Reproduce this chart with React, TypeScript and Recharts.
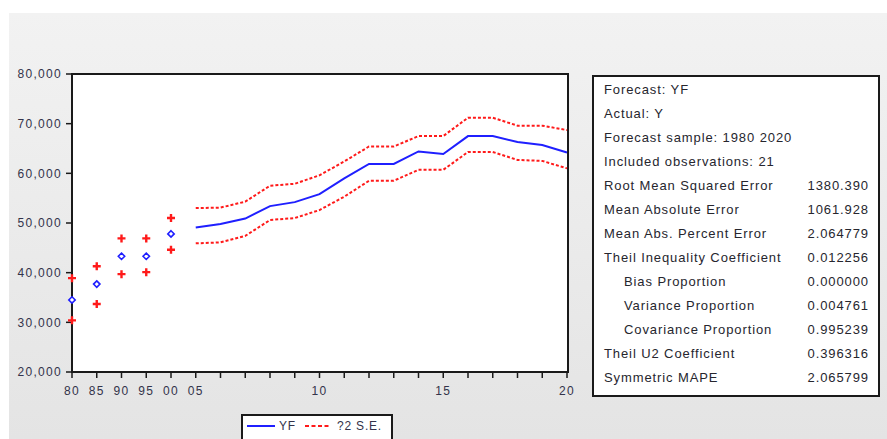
import { ComposedChart, Line, XAxis, YAxis } from "recharts";

// 21 observations: 1980-2000 every 5 years, then annual 2005-2020
const years = ["80", "85", "90", "95", "00", "05", "06", "07", "08", "09", "10", "11", "12", "13", "14", "15", "16", "17", "18", "19", "20"];
const tickLabels = ["80", "85", "90", "95", "00", "05", "", "", "", "", "10", "", "", "", "", "15", "", "", "", "", "20"];
const yf = [34500, 37700, 43300, 43300, 47800, 49100, 49800, 50900, 53400, 54200, 55800, 59000, 61900, 61900, 64400, 63900, 67500, 67500, 66300, 65700, 64200];
const upper = [38900, 41300, 46900, 46900, 51000, 53000, 53100, 54300, 57500, 57900, 59600, 62400, 65400, 65400, 67500, 67500, 71200, 71200, 69600, 69600, 68700];
const lower = [30400, 33700, 39700, 40100, 44600, 45900, 46100, 47400, 50600, 51000, 52600, 55300, 58500, 58500, 60700, 60700, 64300, 64300, 62700, 62500, 61000];
const yTicks = [20000, 30000, 40000, 50000, 60000, 70000, 80000];

// first five observations are not consecutive years, so they are drawn as isolated points
const gapCount = 5;

const rows = years.map((y, i) => ({
  i,
  year: y,
  yfPt: i < gapCount ? yf[i] : null,
  upPt: i < gapCount ? upper[i] : null,
  loPt: i < gapCount ? lower[i] : null,
  yfLn: i >= gapCount ? yf[i] : null,
  upLn: i >= gapCount ? upper[i] : null,
  loLn: i >= gapCount ? lower[i] : null,
}));

const stats: [string, string, boolean][] = [
  ["Forecast: YF", "", false],
  ["Actual: Y", "", false],
  ["Forecast sample: 1980 2020", "", false],
  ["Included observations: 21", "", false],
  ["Root Mean Squared Error", "1380.390", false],
  ["Mean Absolute Error", "1061.928", false],
  ["Mean Abs. Percent Error", "2.064779", false],
  ["Theil Inequality Coefficient", "0.012256", false],
  ["Bias Proportion", "0.000000", true],
  ["Variance Proportion", "0.004761", true],
  ["Covariance Proportion", "0.995239", true],
  ["Theil U2 Coefficient", "0.396316", false],
  ["Symmetric MAPE", "2.065799", false],
];

const BLUE = "#1f1fff";
const RED = "#ff1a1a";
const FONT = "'Liberation Sans', Arial, sans-serif";
const tickStyle = { fontSize: 12, fill: "#33334a", fontFamily: FONT, letterSpacing: 1.3 };

const Diamond = (props: any) => {
  const { cx, cy, value } = props;
  if (cx == null || cy == null || value == null) return null;
  return <path d={`M${cx},${cy - 3.2} L${cx + 3.2},${cy} L${cx},${cy + 3.2} L${cx - 3.2},${cy} Z`} fill="#fff" stroke={BLUE} strokeWidth={1.6} />;
};

const Plus = (props: any) => {
  const { cx, cy, value } = props;
  if (cx == null || cy == null || value == null) return null;
  return (
    <path d={`M${cx - 4},${cy} L${cx + 4},${cy} M${cx},${cy - 4} L${cx},${cy + 4}`} stroke={RED} strokeWidth={2.4} />
  );
};

export default function App() {
  return (
    <div style={{ position: "absolute", left: 0, top: 0, width: 887, height: 439, background: "#fff", overflow: "hidden" }}>
      <div
        style={{
          position: "absolute",
          left: 9,
          top: 13,
          right: 0,
          bottom: 0,
          background: "linear-gradient(#f2f2f2, #e4e4e4)",
        }}
      />
      {/* plot frame behind the chart */}
      <div
        style={{
          position: "absolute",
          left: 71,
          top: 73,
          width: 498,
          height: 300,
          boxSizing: "border-box",
          border: "2px solid #1a1a1a",
          background: "#fff",
        }}
      />
      <div style={{ position: "absolute", left: 0, top: 0 }}>
        <ComposedChart width={887} height={439} data={rows} margin={{ top: 74, right: 320, bottom: 37, left: 8 }}>
          <XAxis
            dataKey="i"
            type="number"
            domain={[0, 20]}
            ticks={years.map((_, i) => i)}
            tickFormatter={(v: number) => tickLabels[v]}
            interval={0}
            height={30}
            tickSize={6}
            tickMargin={8}
            tick={tickStyle}
            axisLine={{ stroke: "#1a1a1a", strokeWidth: 2 }}
            tickLine={{ stroke: "#1a1a1a", strokeWidth: 1.5 }}
          />
          <YAxis
            domain={[20000, 80000]}
            ticks={yTicks}
            tickFormatter={(v: number) => v.toLocaleString("en-US")}
            width={64}
            tickSize={6}
            tickMargin={4}
            tick={tickStyle}
            axisLine={{ stroke: "#1a1a1a", strokeWidth: 2 }}
            tickLine={{ stroke: "#1a1a1a", strokeWidth: 1.5 }}
          />
          <Line dataKey="upLn" stroke={RED} strokeWidth={2} strokeDasharray="3 2" dot={false} activeDot={false} isAnimationActive={false} />
          <Line dataKey="loLn" stroke={RED} strokeWidth={2} strokeDasharray="3 2" dot={false} activeDot={false} isAnimationActive={false} />
          <Line dataKey="yfLn" stroke={BLUE} strokeWidth={2} dot={false} activeDot={false} isAnimationActive={false} />
          <Line dataKey="upPt" stroke="none" dot={<Plus />} activeDot={false} isAnimationActive={false} />
          <Line dataKey="loPt" stroke="none" dot={<Plus />} activeDot={false} isAnimationActive={false} />
          <Line dataKey="yfPt" stroke="none" dot={<Diamond />} activeDot={false} isAnimationActive={false} />
        </ComposedChart>
      </div>

      {/* statistics box */}
      <div
        style={{
          position: "absolute",
          left: 592,
          top: 75,
          width: 284,
          height: 317,
          border: "2px solid #1a1a1a",
          background: "#fff",
          fontFamily: FONT,
          fontSize: 13,
          letterSpacing: 0.9,
          color: "#26262e",
          paddingTop: 1,
          boxSizing: "content-box",
        }}
      >
        {stats.map(([label, value, indent]) => (
          <div key={label} style={{ display: "flex", height: 24, lineHeight: "24px", paddingLeft: indent ? 30 : 10, paddingRight: 9 }}>
            <span style={{ flex: 1 }}>{label}</span>
            <span>{value}</span>
          </div>
        ))}
      </div>

      {/* legend */}
      <div
        style={{
          position: "absolute",
          left: 241,
          top: 414,
          width: 148,
          height: 30,
          border: "2px solid #1a1a1a",
          background: "#fff",
          fontFamily: FONT,
          fontSize: 12,
          letterSpacing: 0.8,
          color: "#33334a",
        }}
      >
        <svg width={148} height={24} style={{ position: "absolute", left: 0, top: 0 }}>
          <line x1={4} x2={32} y1={10} y2={10} stroke={BLUE} strokeWidth={2} />
          <line x1={62} x2={88} y1={10} y2={10} stroke={RED} strokeWidth={2} strokeDasharray="4 2.5" />
        </svg>
        <span style={{ position: "absolute", left: 36, top: 3 }}>YF</span>
        <span style={{ position: "absolute", left: 94, top: 3 }}>?2 S.E.</span>
      </div>
    </div>
  );
}
